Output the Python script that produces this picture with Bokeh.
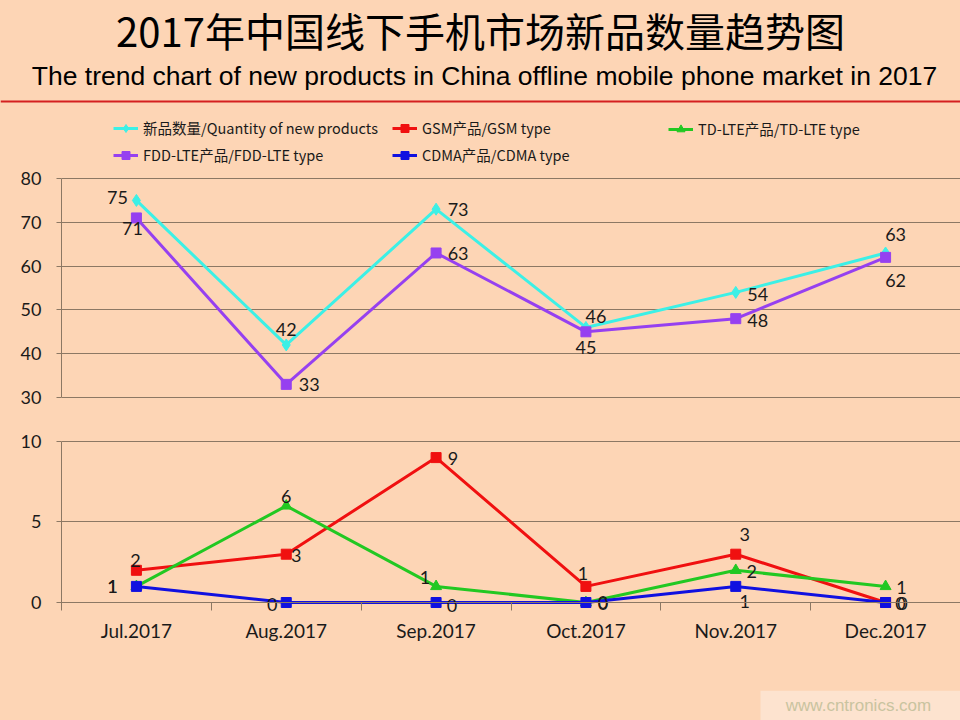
from bokeh.plotting import figure
from bokeh.models import Range1d, FixedTicker, Legend, LegendItem, Label, BoxAnnotation
from bokeh.layouts import column
from bokeh.embed import file_html
from bokeh.resources import INLINE
from bokeh.core.properties import value

# ---------------- data ----------------
months = ["Jul.2017", "Aug.2017", "Sep.2017", "Oct.2017", "Nov.2017", "Dec.2017"]
total = [75, 42, 73, 46, 54, 63]      # 新品数量/Quantity of new products
fdd = [71, 33, 63, 45, 48, 62]        # FDD-LTE产品/FDD-LTE type
gsm = [2, 3, 9, 1, 3, 0]              # GSM产品/GSM type
tdlte = [1, 6, 1, 0, 2, 1]            # TD-LTE产品/TD-LTE type
cdma = [1, 0, 0, 0, 1, 0]             # CDMA产品/CDMA type
upper_ticks = [30, 40, 50, 60, 70, 80]
lower_ticks = [0, 5, 10]

title_cn = "2017年中国线下手机市场新品数量趋势图"
title_en = "The trend chart of new products in China offline mobile phone market in 2017"
lab_total = "新品数量/Quantity of new products"
lab_gsm = "GSM产品/GSM type"
lab_td = "TD-LTE产品/TD-LTE type"
lab_fdd = "FDD-LTE产品/FDD-LTE type"
lab_cdma = "CDMA产品/CDMA type"
watermark = "www.cntronics.com"

# ---------------- styles / label placement (px) ----------------
BG = "#FDD5B5"
GRID = "#8C7864"
C_TOTAL = "#3CF0E6"
C_FDD = "#9640F0"
C_GSM = "#F01010"
C_TD = "#22C822"
C_CDMA = "#1010E0"
TXT = "#1A1A1A"

off_total = [(-19, -3), (0, -15), (22, 0), (10, -11), (22, 2), (10, -18)]
off_fdd = [(-4, 11), (23, 0), (22, 1), (0, 16), (22, 2), (10, 23)]
off_gsm = [(-1, -10), (10, 1), (17, 1), (-3, -13), (9, -20), (15, 1)]
off_td = [(-24, 0), (0, -9), (-11, -9), (17, 0), (16, 1), (16, 1)]
off_cdma = [(-24, 0), (-14, 2), (16, 3), (17, 1), (9, 15), (17, 1)]

xs = [i + 0.5 for i in range(len(months))]
x_range = Range1d(0, len(months))


def plain_fig(h):
    f = figure(width=960, height=h, x_range=Range1d(0, 960), y_range=Range1d(0, h),
               output_backend="svg", toolbar_location=None,
               x_axis_location=None, y_axis_location=None, min_border=0,
               frame_align=False,
               background_fill_alpha=0, border_fill_alpha=0, outline_line_color=None)
    f.grid.visible = False
    return f


def chart_fig(h, yr, bot_b):
    f = figure(width=960, height=h, x_range=x_range, y_range=yr,
               output_backend="svg", toolbar_location=None,
               min_border_left=61, min_border_right=0,
               min_border_top=0, min_border_bottom=bot_b,
               background_fill_alpha=0, border_fill_alpha=0,
               outline_line_color=None)
    return f


def style_yaxis(f, ticks, bounds):
    t = FixedTicker(ticks=ticks)
    f.yaxis.ticker = t
    f.yaxis.bounds = bounds
    f.yaxis.axis_line_color = GRID
    f.yaxis.major_tick_line_color = GRID
    f.yaxis.major_tick_out = 5
    f.yaxis.major_tick_in = 0
    f.yaxis.minor_tick_line_color = None
    f.yaxis.major_label_standoff = 15
    f.yaxis.major_label_text_font = "Lato"
    f.yaxis.major_label_text_font_size = "18px"
    f.yaxis.major_label_text_color = TXT
    f.ygrid.ticker = t
    f.ygrid.grid_line_color = GRID
    f.ygrid.grid_line_width = 1
    f.xgrid.visible = False


def series(f, vals, color, marker, size, offs=None):
    ln = f.line(xs, vals, line_color=color, line_width=3)
    sc = f.scatter(xs, vals, marker=marker, size=size, fill_color=color, line_color=color)
    if offs is not None:
        f.text(x=xs, y=vals, text=[str(v) for v in vals],
               x_offset=[o[0] for o in offs], y_offset=[o[1] for o in offs],
               text_align="center", text_baseline="middle",
               text_font=value("Lato"), text_font_size="18px", text_color=TXT)
    return ln, sc


# ---------------- header ----------------
head = plain_fig(110)
head.add_layout(Label(x=480, y=81, x_units="screen", y_units="screen", text=title_cn,
                      text_align="center", text_baseline="middle",
                      text_font="Noto Sans CJK SC", text_font_size="40px", text_color="#000000"))
head.add_layout(Label(x=484, y=35, x_units="screen", y_units="screen", text=title_en,
                      text_align="center", text_baseline="middle",
                      text_font="Liberation Sans", text_font_size="26.5px", text_color="#000000"))
head.add_layout(BoxAnnotation(left=0, right=960, bottom=8, top=10,
                              left_units="screen", right_units="screen",
                              bottom_units="screen", top_units="screen",
                              fill_color="#D42020", fill_alpha=1, line_color=None))

# ---------------- upper panel (30-80) ----------------
top = chart_fig(310, Range1d(24.75, 95.53), 0)
top.xaxis.visible = False
style_yaxis(top, upper_ticks, (30, 80))

r_total = series(top, total, C_TOTAL, "diamond", 12, off_total)
r_fdd = series(top, fdd, C_FDD, "square", 10, off_fdd)
# the low series lie below this panel's view; they feed the shared legend
r_gsm_u = series(top, gsm, C_GSM, "square", 10)
r_td_u = series(top, tdlte, C_TD, "triangle", 11)
r_cdma_u = series(top, cdma, C_CDMA, "square", 10)

leg_kw = dict(orientation="vertical", padding=0, margin=0, spacing=6,
              glyph_width=25, glyph_height=20, label_height=20, label_standoff=5,
              label_text_font="Noto Sans CJK SC", label_text_font_size="14.5px",
              label_text_color=TXT, border_line_color=None, background_fill_alpha=0)
leg1 = Legend(items=[LegendItem(label=lab_total, renderers=list(r_total)),
                     LegendItem(label=lab_fdd, renderers=list(r_fdd))],
              location=(52, 255), **leg_kw)
leg2 = Legend(items=[LegendItem(label=lab_gsm, renderers=list(r_gsm_u)),
                     LegendItem(label=lab_cdma, renderers=list(r_cdma_u))],
              location=(331, 255), **leg_kw)
leg3 = Legend(items=[LegendItem(label=lab_td, renderers=list(r_td_u))],
              location=(607, 281), **leg_kw)
for lg in (leg1, leg2, leg3):
    top.add_layout(lg)

# ---------------- lower panel (0-10) ----------------
bot = chart_fig(270, Range1d(-2.981, 11.304), 40)
style_yaxis(bot, lower_ticks, (-0.5, 10))
bot.xaxis.fixed_location = 0
bot.xaxis.ticker = FixedTicker(ticks=xs, minor_ticks=list(range(1, len(months) + 1)))
bot.xaxis.major_label_overrides = {x: m for x, m in zip(xs, months)}
bot.xaxis.axis_line_color = GRID
bot.xaxis.major_tick_line_color = None
bot.xaxis.major_tick_out = 0
bot.xaxis.major_tick_in = 0
bot.xaxis.minor_tick_line_color = GRID
bot.xaxis.minor_tick_out = 8
bot.xaxis.minor_tick_in = 0
bot.xaxis.major_label_standoff = 8
bot.xaxis.major_label_text_font = "Lato"
bot.xaxis.major_label_text_font_size = "19px"
bot.xaxis.major_label_text_color = TXT

series(bot, gsm, C_GSM, "square", 10, off_gsm)
series(bot, tdlte, C_TD, "triangle", 11, off_td)
series(bot, cdma, C_CDMA, "square", 10, off_cdma)

# ---------------- footer ----------------
foot = plain_fig(30)
foot.add_layout(BoxAnnotation(left=760, right=960, bottom=0, top=30,
                              left_units="screen", right_units="screen",
                              bottom_units="screen", top_units="screen",
                              fill_color="#FDE3CF", fill_alpha=1, line_color=None))
foot.add_layout(Label(x=858, y=15, x_units="screen", y_units="screen", text=watermark,
                      text_align="center", text_baseline="middle",
                      text_font="Liberation Sans", text_font_size="17px", text_color="#C9C4A0"))

p = column(head, top, bot, foot, spacing=0, styles={"background-color": BG})
open("out.html", "w").write(file_html(p, INLINE))
